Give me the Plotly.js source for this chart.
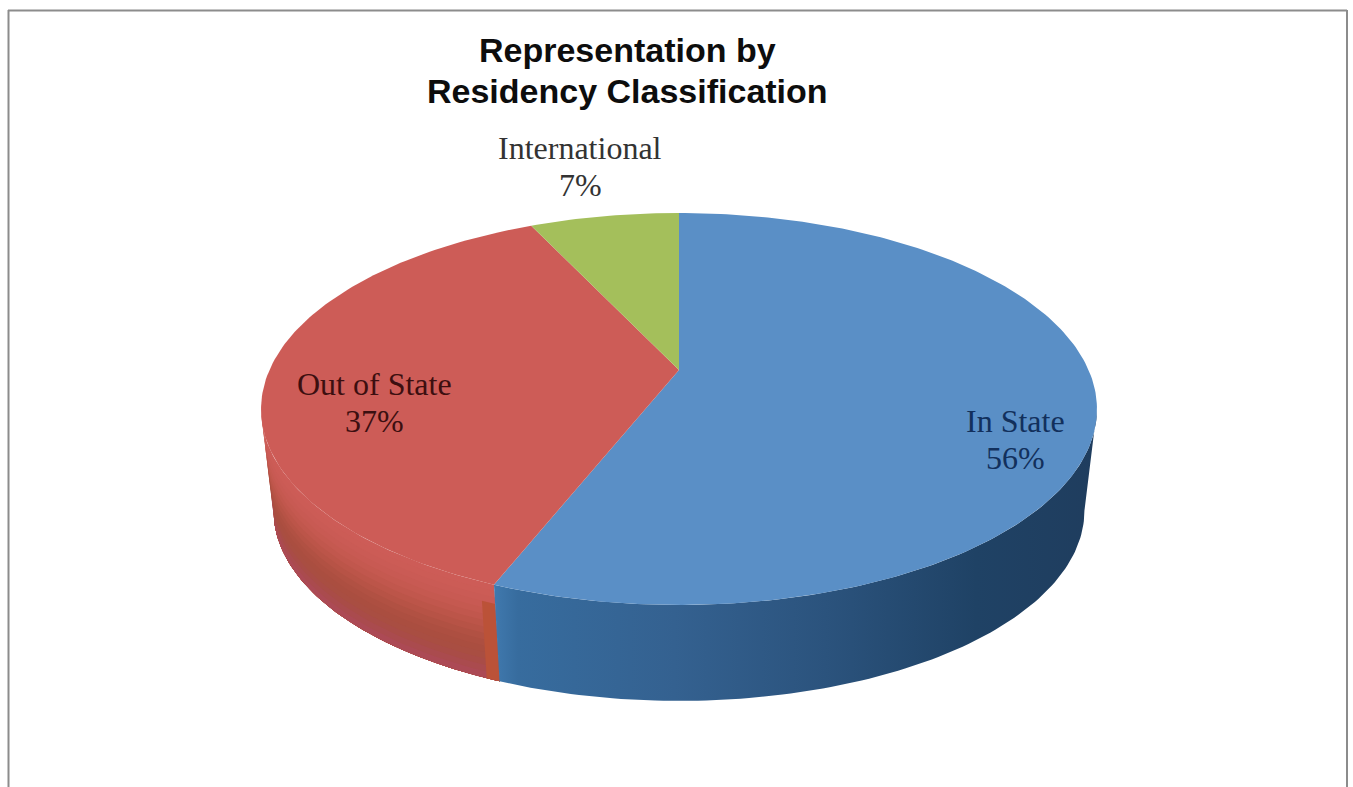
<!DOCTYPE html>
<html><head><meta charset="utf-8">
<script src="https://cdn.plot.ly/plotly-3.0.1.min.js"></script>
<style>html,body{margin:0;padding:0;background:#fff;overflow:hidden}</style>
</head><body><div id="chart" style="width:1353px;height:787px"></div>
<script>
// Data, clockwise from 12 o'clock
const categories = ["In State", "Out of State", "International"];
const shares = [56, 37, 7];
const titleLines = ["Representation by", "Residency Classification"];

// Colours
const faceColors = ["#5a8fc6", "#cd5c57", "#a4bf5b"];
const labelColors = ["#12305c", "#3c0f10", "#333333"];
const blueWall = [[0,"#4079ae"],[0.04,"#376c9e"],[0.3,"#346190"],[0.55,"#2b537d"],[0.8,"#1f4265"],[1,"#1f3d5e"]];
const redBands = ["#cd5c57","#cc5c56","#ca5b55","#c85a53","#c55950","#c1574d","#bc5549","#b75346","#b15143","#ad4f41","#aa4e40","#a94e42","#a94c47","#aa4b4e","#ac4a55"];
const seamColor = "#bb5238";

// Perspective projection of the disc onto the axes' coordinates
const cx = 679, cy = 370, A = 409.6, B = 188.2, persp = 0.199;
const wallScale = 0.97, wallY = 473;
function project(deg, t) {
  const a = deg * Math.PI / 180, d = 1 + persp * Math.cos(a);
  const s = 1 + (wallScale - 1) * t, y0 = cy + (wallY - cy) * t;
  return [cx + A * s * Math.sin(a) / d, y0 - B * s * Math.cos(a) / d];
}
function arc(from, to, t) {
  const n = Math.max(2, Math.ceil(Math.abs(to - from))), pts = [];
  for (let i = 0; i <= n; i++) pts.push(project(from + (to - from) * i / n, t));
  return pts;
}
const base = {type: "scatter", mode: "lines", fill: "toself", hoverinfo: "skip", showlegend: false, line: {width: 0}};
function poly(pts, extra) {
  return Object.assign({}, base, {x: pts.map(p => p[0]), y: pts.map(p => p[1])}, extra);
}

const total = shares.reduce((a, b) => a + b, 0);
const bounds = [0];
shares.forEach((v, i) => bounds.push(bounds[i] + v / total * 360));
const silhouette = Math.acos(-persp) * 180 / Math.PI;   // widest point of the rim
const traces = [];

// Red wall as stacked bands that follow the rim
const leftEdge = 360 - silhouette;
redBands.forEach((c, i) => {
  const t0 = i / redBands.length, t1 = 1;
  const pts = arc(bounds[1], leftEdge, t0).concat(arc(leftEdge, bounds[1], t1));
  traces.push(poly(pts, {fillcolor: c}));
});
// Narrow lit strip where the red wall meets the blue one
const seamEnd = bounds[1] + 1.7;
traces.push(poly(arc(bounds[1], seamEnd, 0.2).concat(arc(seamEnd, bounds[1], 1)), {fillcolor: seamColor}));
// Blue wall
traces.push(poly(arc(silhouette, bounds[1], 0).concat(arc(bounds[1], silhouette, 1)), {
  fillgradient: {type: "horizontal", colorscale: blueWall}
}));
// Top faces
shares.forEach((v, i) => {
  const pts = [[cx, cy]].concat(arc(bounds[i], bounds[i + 1], 0));
  pts.push([cx, cy]);
  traces.push(poly(pts, {fillcolor: faceColors[i]}));
});

// Label positions (centre of text, in axis units)
const labelX = [1015, 374, 580];
const labelY1 = [421, 384, 148];
const labelY2 = [458, 421, 185];
const annotations = [];
categories.forEach((c, i) => {
  const font = {family: "Liberation Serif, serif", size: 32, color: labelColors[i]};
  annotations.push({x: labelX[i], y: labelY1[i], text: c, showarrow: false, font, xanchor: "center", yanchor: "middle"});
  annotations.push({x: labelX[i], y: labelY2[i], text: shares[i] + "%", showarrow: false, font, xanchor: "center", yanchor: "middle"});
});
const titleY = [50, 91], titleX = 627.5;
titleLines.forEach((t, i) => annotations.push({
  x: titleX, y: titleY[i], text: "<b>" + t + "</b>", showarrow: false, xanchor: "center", yanchor: "middle",
  font: {family: "Liberation Sans, Arial, sans-serif", size: 34, color: "#0d0d0d"}
}));

const hidden = {visible: false, fixedrange: true};
const layout = {
  width: 1353, height: 787, margin: {l: 0, r: 0, t: 0, b: 0},
  paper_bgcolor: "#ffffff", plot_bgcolor: "#ffffff",
  xaxis: Object.assign({range: [0, 1353]}, hidden),
  yaxis: Object.assign({range: [787, 0]}, hidden),
  annotations,
  shapes: [
    {type: "line", xref: "x", yref: "y", x0: 8, x1: 1347, y0: 10.5, y1: 10.5, line: {color: "#8c8c8c", width: 2}},
    {type: "line", xref: "x", yref: "y", x0: 8.5, x1: 8.5, y0: 10, y1: 787, line: {color: "#8c8c8c", width: 2}},
    {type: "line", xref: "x", yref: "y", x0: 1347, x1: 1347, y0: 10, y1: 787, line: {color: "#8c8c8c", width: 2}}
  ]
};
Plotly.newPlot("chart", traces, layout, {displayModeBar: false, staticPlot: true});
</script></body></html>
